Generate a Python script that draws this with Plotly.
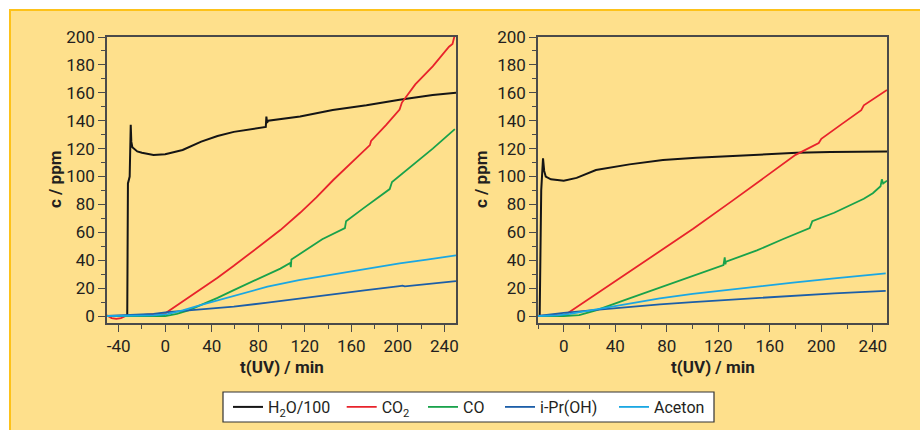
import plotly.graph_objects as go

# ---------------- data ----------------
series_names = ["H<sub>2</sub>O/100", "CO<sub>2</sub>", "CO", "i-Pr(OH)", "Aceton"]
series_colors = ["#151515", "#e8232b", "#19a24b", "#1c5ea8", "#1aa7e3"]

# left panel
L_h2o_t = [-50, -32.6, -32.0, -30.5, -29.6, -29.1, -28.2, -24, -20, -10, 0, 15, 31, 45, 59, 75, 86.5, 87.0, 87.6, 88.5, 93, 116, 144, 173, 201.5, 230, 250]
L_h2o_c = [0, 0, 95, 100, 137, 125, 121, 118, 117, 115.5, 116, 119, 125, 129, 132, 134, 135.5, 143, 138.5, 140, 140.5, 143, 147.7, 151, 155, 158.4, 160]

L_co2_t = [-50, -46, -42, -38, -34, -20, 0, 3, 10, 20, 31, 45, 59, 75, 88, 99, 116, 130, 144.5, 160, 176, 177, 190, 201.5, 203.5, 215, 230, 244, 247, 248.5, 250]
L_co2_c = [0.5, -1.5, -2, -1.5, 0, 0.8, 1.8, 3.6, 7.5, 13, 19.5, 27.5, 36, 46, 54.5, 61.6, 74, 85, 97.5, 110, 122.5, 125.5, 137, 148, 153, 166, 179, 193, 195, 200, 202]

L_co_t = [-50, -30, 0, 10, 20, 31, 45, 59, 75, 90, 99, 107.5, 108.0, 108.5, 120, 135, 154.5, 155.5, 170, 180, 193, 195, 210, 230, 249]
L_co_c = [0, 0, 0, 1.5, 4, 8, 13, 18.6, 25, 31, 34, 38, 35, 40.5, 47, 55, 63, 68, 77, 83, 91, 96, 106, 120, 134]

L_ipr_t = [-50, -30, -10, 2, 30, 59, 88, 116, 145, 173, 201.5, 204, 206, 225, 250]
L_ipr_c = [0, 0.7, 1.5, 2.8, 4.5, 6.7, 9.6, 12.7, 15.5, 18.6, 21.5, 21.8, 21.2, 23, 25]

L_ace_t = [-50, -30, -10, 2, 15, 31, 60, 88, 115, 145, 175, 201.5, 225, 250]
L_ace_c = [0, 0, 0.5, 1.4, 4, 8, 14.5, 21, 25.8, 30, 34, 37.8, 40.5, 43.5]

# right panel
R_h2o_t = [-20, -18.7, -17.5, -16.8, -16.1, -15.2, -14, -10, -5, 0, 10, 25, 51, 77, 103, 129, 155, 181, 207, 232.5, 251]
R_h2o_c = [0, 0, 90, 100, 113, 104, 100, 98, 97.3, 97, 99, 104.7, 108.7, 111.8, 113.5, 114.7, 116, 117, 117.5, 118, 118]

R_co2_t = [-20, -5, 0, 3, 20, 49, 75, 100.5, 130, 155, 180, 198, 200, 215, 231, 233, 251]
R_co2_c = [0, 0.3, 0.8, 2, 12.5, 30.5, 47, 62.5, 82, 99, 115.5, 124, 127, 137, 147.5, 151, 162]

R_co_t = [-20, 0, 12, 25, 51, 80, 113.5, 124, 125, 125.5, 126, 150, 170, 191, 193, 210, 233, 240, 246, 247, 248, 251]
R_co_c = [0, 0, 0.7, 4, 12.7, 22, 33, 36.5, 42, 37, 39, 47, 55, 63, 68, 74, 84, 88, 93, 98, 95, 97]

R_ipr_t = [-20, -10, 0, 23, 50, 74.6, 100, 126.5, 150, 178, 210, 250]
R_ipr_c = [0, 1.2, 2.3, 4.3, 6.5, 8.3, 10, 11.5, 13, 14.6, 16.3, 18]

R_ace_t = [-20, -5, 5, 23, 50, 74.6, 100, 126.5, 150, 178, 210, 250]
R_ace_c = [0, 0.5, 1.5, 4.3, 9, 12.7, 15.8, 18.6, 21.3, 23.9, 27, 30.6]

x_tickvals = [-40, 0, 40, 80, 120, 160, 200, 240]
x_ticktext = ["-40", "0", "40", "80", "120", "160", "200", "240"]
y_tickvals = [0, 20, 40, 60, 80, 100, 120, 140, 160, 180, 200]
x_title = "t(UV) / min"
y_title = "c / ppm"

# ---------------- figure ----------------
W, H = 920, 430
FONT = "Roboto"
AX = "#4a4a4a"
TXT = "#231f20"

left_series = [(L_h2o_t, L_h2o_c), (L_co2_t, L_co2_c), (L_co_t, L_co_c), (L_ipr_t, L_ipr_c), (L_ace_t, L_ace_c)]
right_series = [(R_h2o_t, R_h2o_c), (R_co2_t, R_co2_c), (R_co_t, R_co_c), (R_ipr_t, R_ipr_c), (R_ace_t, R_ace_c)]
line_widths = [2.0, 1.8, 1.8, 1.8, 1.8]

fig = go.Figure()
legend_ids = ["legend", "legend2", "legend3", "legend4", "legend5"]
for i, (t, c) in enumerate(left_series):
    fig.add_trace(go.Scatter(x=t, y=c, mode="lines", name=series_names[i],
                             line=dict(color=series_colors[i], width=line_widths[i]),
                             xaxis="x", yaxis="y", legend=legend_ids[i], showlegend=True))
for i, (t, c) in enumerate(right_series):
    fig.add_trace(go.Scatter(x=t, y=c, mode="lines", name=series_names[i],
                             line=dict(color=series_colors[i], width=line_widths[i]),
                             xaxis="x2", yaxis="y2", showlegend=False))

ydom = [1 - 323 / H, 1 - 37 / H]
common_x = dict(tickmode="array", tickvals=x_tickvals, ticktext=x_ticktext,
                ticks="outside", ticklen=7, tickwidth=1.2, tickcolor=AX,
                minor=dict(tickmode="linear", tick0=0, dtick=20, ticks="outside", ticklen=4, tickcolor=AX, tickwidth=1.2),
                showline=True, linecolor=AX, linewidth=1.5, mirror=True,
                showgrid=False, zeroline=False, automargin=False,
                tickfont=dict(family=FONT, size=17, color=TXT))
common_y = dict(tickmode="array", tickvals=y_tickvals, range=[-5, 200],
                ticks="outside", ticklen=7, tickwidth=1.2, tickcolor=AX,
                minor=dict(tickmode="linear", tick0=0, dtick=10, ticks="outside", ticklen=4, tickcolor=AX, tickwidth=1.2),
                showline=True, linecolor=AX, linewidth=1.5, mirror=True,
                showgrid=False, zeroline=False, automargin=False,
                tickfont=dict(family=FONT, size=17, color=TXT))

fig.update_layout(
    width=W, height=H,
    margin=dict(l=0, r=0, t=0, b=0, autoexpand=False),
    paper_bgcolor="white",
    plot_bgcolor="#fdedc3",
    font=dict(family=FONT, size=17, color=TXT),
    xaxis=dict(domain=[107 / W, 456 / W], range=[-50, 250], anchor="y", **common_x),
    yaxis=dict(domain=ydom, anchor="x", **common_y),
    xaxis2=dict(domain=[538 / W, 887 / W], range=[-20, 251], anchor="y2", **common_x),
    yaxis2=dict(domain=ydom, anchor="x2", **common_y),
)

# outer yellow panel with golden border, legend white box
fig.add_shape(type="rect", xref="paper", yref="paper", x0=10 / W, x1=1.02, y0=-0.02, y1=1 - 10 / H,
              fillcolor="#fee08c", line=dict(color="#fdc21a", width=2), layer="below")
fig.add_shape(type="rect", xref="paper", yref="paper", x0=223 / W, x1=714 / W, y0=1 - 422 / H, y1=1 - 392 / H,
              fillcolor="white", line=dict(color="#333333", width=1.2), layer="below")

# legends, one per entry, placed along the box
sample_starts = [233, 346.7, 428, 505, 619]
for lid, xs in zip(legend_ids, sample_starts):
    fig.update_layout({lid: dict(x=(xs - 5) / W, y=1 - 407 / H, xanchor="left", yanchor="middle",
                                 orientation="h", bgcolor="rgba(0,0,0,0)", borderwidth=0,
                                 font=dict(family=FONT, size=16, color=TXT))})

# axis titles
for xc in [281.5, 712.5]:
    fig.add_annotation(text="<b>" + x_title + "</b>", xref="paper", yref="paper", x=xc / W, y=1 - 367 / H,
                       showarrow=False, xanchor="center", yanchor="middle",
                       font=dict(family=FONT, size=17, color=TXT))
for xc in [55, 481]:
    fig.add_annotation(text="<b>" + y_title + "</b>", xref="paper", yref="paper", x=xc / W, y=1 - 180 / H,
                       showarrow=False, xanchor="center", yanchor="middle", textangle=-90,
                       font=dict(family=FONT, size=17, color=TXT))

fig.write_html("out.html", config={"displayModeBar": False},
               post_script="document.body.style.margin='0';document.body.style.overflow='hidden';")
